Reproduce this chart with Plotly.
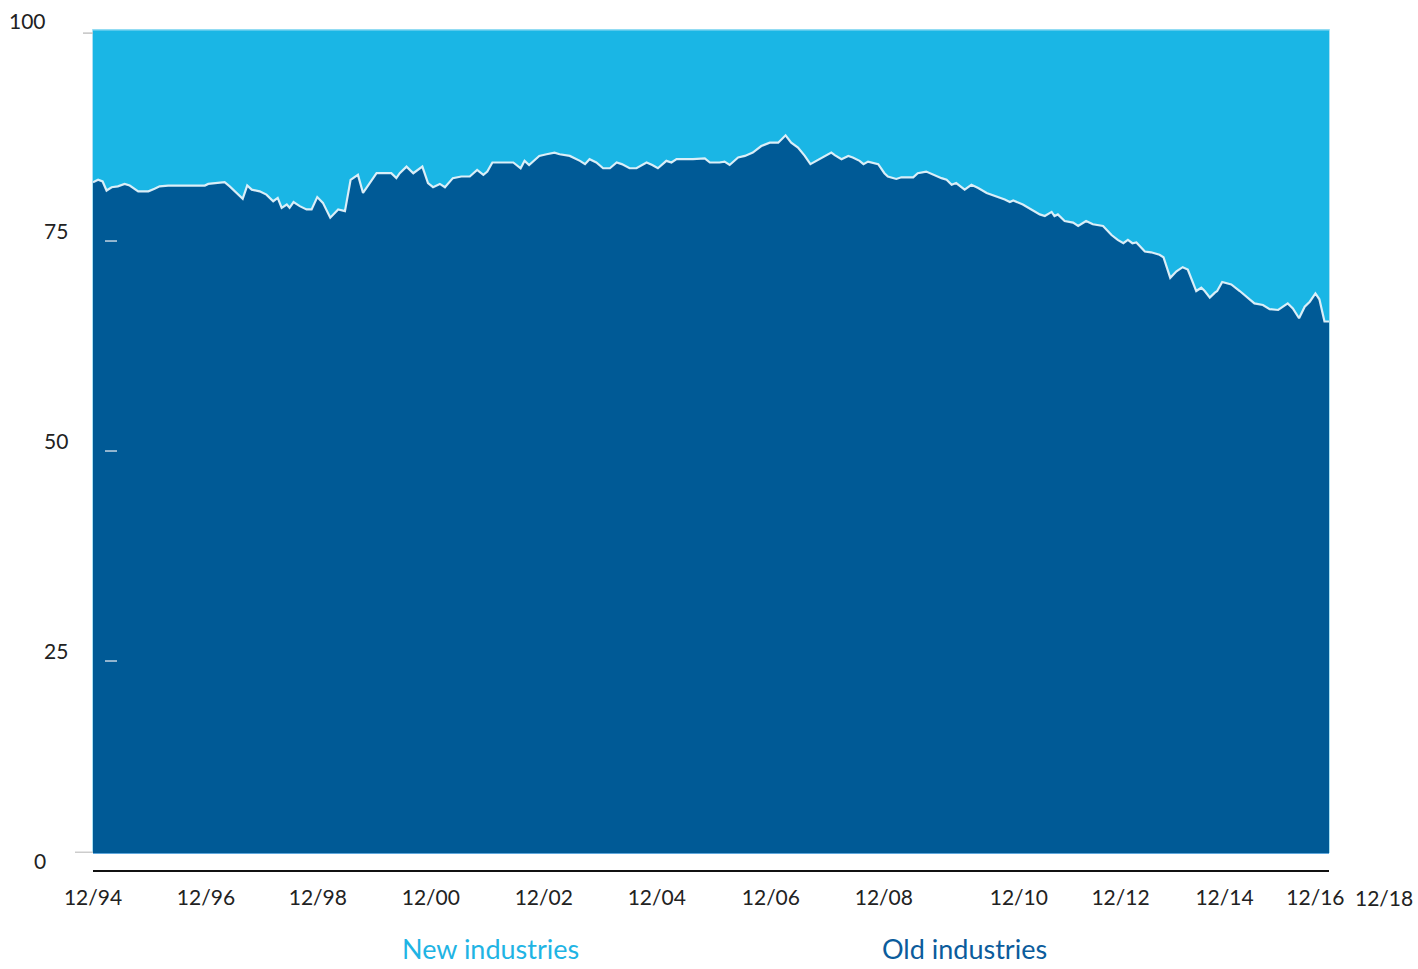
import plotly.graph_objects as go

# Share of market capitalisation, old vs new industries (percent), monthly-ish samples
years = [1994.92, 1995.01, 1995.09, 1995.16, 1995.25, 1995.36, 1995.48, 1995.57, 1995.72, 1995.90,
         1996.01, 1996.10, 1996.25, 1996.63, 1996.90, 1996.96, 1997.25, 1997.34, 1997.46, 1997.57,
         1997.65, 1997.73, 1997.87, 1997.99, 1998.11, 1998.19, 1998.26, 1998.35, 1998.40, 1998.47,
         1998.58, 1998.70, 1998.79, 1998.89, 1998.99, 1999.12, 1999.26, 1999.38, 1999.48, 1999.61,
         1999.70, 1999.82, 1999.94, 2000.20, 2000.29, 2000.35, 2000.47, 2000.59, 2000.75, 2000.85,
         2000.94, 2001.06, 2001.15, 2001.29, 2001.44, 2001.59, 2001.72, 2001.83, 2001.90, 2001.99,
         2002.36, 2002.49, 2002.56, 2002.64, 2002.82, 2002.95, 2003.09, 2003.18, 2003.36, 2003.54,
         2003.63, 2003.71, 2003.83, 2003.95, 2004.07, 2004.19, 2004.28, 2004.42, 2004.54, 2004.72,
         2004.82, 2004.92, 2005.07, 2005.16, 2005.25, 2005.54, 2005.66, 2005.75, 2005.84, 2006.01,
         2006.10, 2006.19, 2006.34, 2006.46, 2006.60, 2006.75, 2006.90, 2007.05, 2007.18, 2007.28,
         2007.40, 2007.52, 2007.62, 2007.73, 2007.87, 2007.99, 2008.05, 2008.17, 2008.29, 2008.37,
         2008.49, 2008.56, 2008.64, 2008.82, 2008.93, 2008.99, 2009.14, 2009.23, 2009.44, 2009.52,
         2009.67, 2009.79, 2009.94, 2010.03, 2010.12, 2010.20, 2010.35, 2010.47, 2010.59, 2010.74,
         2010.91, 2011.06, 2011.15, 2011.21, 2011.38, 2011.53, 2011.68, 2011.77, 2011.89, 2011.94,
         2012.00, 2012.12, 2012.27, 2012.36, 2012.50, 2012.62, 2012.80, 2012.95, 2013.06, 2013.16,
         2013.24, 2013.32, 2013.39, 2013.54, 2013.65, 2013.80, 2013.87, 2013.99, 2014.10, 2014.21,
         2014.30, 2014.45, 2014.54, 2014.60, 2014.69, 2014.78, 2014.82, 2014.91, 2015.07, 2015.22,
         2015.34, 2015.48, 2015.63, 2015.75, 2015.90, 2016.07, 2016.16, 2016.27, 2016.37, 2016.46,
         2016.56, 2016.63, 2016.72, 2016.80]

old_share = [81.4, 81.7, 81.5, 80.4, 80.8, 80.9, 81.2, 81.0, 80.3, 80.3,
             80.6, 80.9, 81.0, 81.0, 81.0, 81.2, 81.4, 80.9, 80.1, 79.4,
             81.0, 80.5, 80.3, 79.9, 79.1, 79.5, 78.3, 78.7, 78.3, 79.0,
             78.5, 78.1, 78.1, 79.6, 78.9, 77.1, 78.1, 77.9, 81.7, 82.3,
             80.1, 81.3, 82.5, 82.5, 81.9, 82.5, 83.3, 82.5, 83.3, 81.3,
             80.8, 81.2, 80.8, 81.9, 82.1, 82.1, 82.9, 82.3, 82.7, 83.8,
             83.8, 83.1, 84.0, 83.5, 84.6, 84.8, 85.0, 84.8, 84.6, 84.0,
             83.6, 84.2, 83.8, 83.1, 83.1, 83.8, 83.6, 83.1, 83.1, 83.8,
             83.5, 83.1, 84.0, 83.8, 84.2, 84.2, 84.3, 84.3, 83.8, 83.8,
             83.9, 83.5, 84.4, 84.6, 85.0, 85.8, 86.2, 86.2, 87.1, 86.2,
             85.6, 84.6, 83.6, 84.0, 84.6, 85.0, 84.7, 84.2, 84.6, 84.4,
             84.0, 83.6, 83.9, 83.6, 82.5, 82.1, 81.8, 82.0, 82.0, 82.5,
             82.7, 82.3, 81.9, 81.7, 81.1, 81.3, 80.5, 81.1, 80.7, 80.1,
             79.7, 79.3, 79.0, 79.2, 78.7, 78.1, 77.5, 77.3, 77.8, 77.3,
             77.5, 76.7, 76.5, 76.1, 76.7, 76.3, 76.1, 75.0, 74.4, 74.0,
             74.4, 74.0, 74.1, 73.0, 72.9, 72.6, 72.3, 69.8, 70.6, 71.1,
             70.8, 68.2, 68.6, 68.2, 67.4, 68.0, 68.2, 69.3, 69.0, 68.2,
             67.5, 66.7, 66.5, 66.0, 65.9, 66.7, 66.1, 64.9, 66.3, 66.9,
             67.9, 67.2, 64.5, 64.5]

# New industries make up the rest of the 100% total
new_share = [round(100 - v, 1) for v in old_share]

tick_years = [1994.92, 1996.92, 1998.90, 2000.90, 2002.90, 2004.90, 2006.92, 2008.92,
              2011.31, 2013.11, 2014.95, 2016.56]
tick_labels = ["12/94", "12/96", "12/98", "12/00", "12/02", "12/04", "12/06", "12/08",
               "12/10", "12/12", "12/14", "12/16"]
extra_tick_year = 2017.77
extra_tick_label = "12/18"

y_tick_values = [100, 75, 50, 25, 0]
y_tick_labels = ["100", "75", "50", "25", "0"]

DARK = "#005a96"
LIGHT = "#1ab6e5"
FONT = "Lato"
TICK_FONT = dict(family=FONT, size=21, color="#222222")

W, H = 1418, 969
M_L, M_R, M_T, M_B = 93, 89, 29, 98
plot_w = W - M_L - M_R
plot_h = H - M_T - M_B
y_dom_bottom = 18 / plot_h

fig = go.Figure()
fig.add_trace(go.Scatter(
    x=years, y=old_share, name="Old industries", stackgroup="share", mode="lines",
    fillcolor=DARK, line=dict(color="rgba(228,242,250,0.95)", width=2.2),
    hoverinfo="skip"))
fig.add_trace(go.Scatter(
    x=years, y=new_share, name="New industries", stackgroup="share", mode="lines",
    fillcolor=LIGHT, line=dict(color="#93dcf3", width=3),
    hoverinfo="skip"))

x0, x1 = years[0], years[-1]

annotations = []
# y tick labels, spaced slightly wider than the plot scale
label_base, label_step = 0.01306, 0.009976
for v, t in zip(y_tick_values, y_tick_labels):
    shift = -45 if v in (0, 100) else -23
    annotations.append(dict(
        xref="paper", yref="paper", x=0, y=label_base + v * label_step,
        xanchor="right", yanchor="middle", xshift=shift, text=t, showarrow=False,
        font=TICK_FONT))

# last date label sits beyond the end of the series
annotations.append(dict(
    xref="paper", yref="paper", x=(extra_tick_year - x0) / (x1 - x0), y=0,
    xanchor="center", yanchor="middle", yshift=-26, text=extra_tick_label, showarrow=False,
    font=TICK_FONT))

# series names below the chart
legend_y = -0.0926
annotations.append(dict(
    xref="paper", yref="paper", x=0.3212, y=legend_y, xanchor="center", yanchor="middle",
    text="New industries", showarrow=False, borderpad=0,
    font=dict(family=FONT, size=27, color="#1fb4e4")))
annotations.append(dict(
    xref="paper", yref="paper", x=0.7047, y=legend_y, xanchor="center", yanchor="middle",
    text="Old industries", showarrow=False, borderpad=0,
    font=dict(family=FONT, size=27, color="#0b5c9c")))

shapes = []
# small tick dashes on the value axis
shapes.append(dict(type="line", xref="paper", yref="y", x0=-10 / plot_w, x1=0, y0=99.5, y1=99.5,
                   line=dict(color="#c4c4c4", width=1.5), layer="above"))
shapes.append(dict(type="line", xref="paper", yref="y", x0=-18 / plot_w, x1=0, y0=0, y1=0,
                   line=dict(color="#cccccc", width=3), layer="above"))
for v in (75, 50, 25):
    yy = label_base + v * label_step - 11 / plot_h
    shapes.append(dict(type="line", xref="paper", yref="paper", x0=12 / plot_w, x1=24 / plot_w,
                       y0=yy, y1=yy, line=dict(color="rgba(215,225,235,0.9)", width=1.5),
                       layer="above"))

fig.update_layout(
    width=W, height=H,
    margin=dict(l=M_L, r=M_R, t=M_T, b=M_B),
    paper_bgcolor="white", plot_bgcolor="white",
    showlegend=False,
    xaxis=dict(range=[x0, x1], anchor="free", position=0, showgrid=False, zeroline=False,
               showline=True, linecolor="#111111", linewidth=1.5, ticks="",
               tickvals=tick_years, ticktext=tick_labels, ticklabelstandoff=8,
               tickfont=TICK_FONT),
    yaxis=dict(range=[0, 100], domain=[y_dom_bottom, 1], showgrid=False,
               zeroline=True, zerolinecolor="#5fa7dc", zerolinewidth=1.5,
               showline=True, mirror=True, linecolor="#a9e1f4", linewidth=1.2,
               showticklabels=False, ticks=""),
    annotations=annotations,
    shapes=shapes,
)

fig.write_html("out.html")
